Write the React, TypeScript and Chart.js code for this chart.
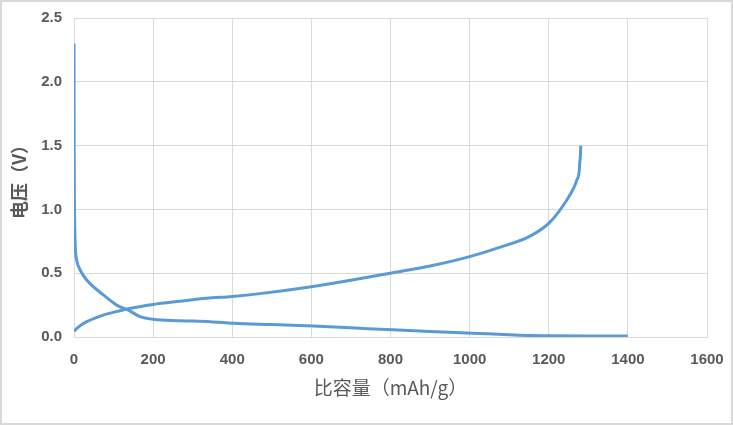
import React, { useEffect, useRef } from 'react';
import Chart from 'chart.js/auto';

// discharge curve (mAh/g, V)
const dischargeCapacity = [0, 0.5, 1, 2, 3, 7, 15, 25, 40, 74, 108, 137, 167, 200, 268, 344, 404, 500, 605, 700, 806, 900, 1006, 1100, 1153, 1207, 1300, 1400];
const dischargeVoltage = [2.3, 1.5, 1.1, 0.85, 0.72, 0.6, 0.53, 0.475, 0.42, 0.33, 0.25, 0.21, 0.16, 0.139, 0.128, 0.12, 0.107, 0.097, 0.086, 0.072, 0.056, 0.043, 0.03, 0.018, 0.012, 0.01, 0.008, 0.007];

// charge curve (mAh/g, V)
const chargeCapacity = [0, 10, 32, 74, 116, 137, 200, 268, 335, 400, 470, 600, 703, 800, 900, 1000, 1068, 1153, 1203, 1245, 1265, 1271, 1277, 1278, 1280, 1281];
const chargeVoltage = [0.045, 0.075, 0.12, 0.172, 0.206, 0.222, 0.255, 0.28, 0.303, 0.318, 0.34, 0.394, 0.447, 0.5, 0.556, 0.63, 0.695, 0.79, 0.9, 1.07, 1.18, 1.23, 1.3, 1.35, 1.42, 1.5];

const xTicks = [0, 200, 400, 600, 800, 1000, 1200, 1400, 1600];
const yTicks = [0, 0.5, 1.0, 1.5, 2.0, 2.5];

const lineColor = '#5b9bd5';
const gridColor = '#d9d9d9';
const textColor = '#595959';

const frame = {
  id: 'frame',
  beforeDraw(chart: any) {
    const { ctx, width, height } = chart;
    ctx.save();
    ctx.fillStyle = '#fff';
    ctx.fillRect(0, 0, width, height);
    ctx.strokeStyle = gridColor;
    ctx.lineWidth = 2;
    ctx.strokeRect(1, 1, width - 2, height - 2);
    ctx.restore();
  },
};

const App: React.FC = () => {
  const chartRef = useRef<HTMLCanvasElement | null>(null);
  const chartInstance = useRef<Chart | null>(null);

  useEffect(() => {
    document.body.style.margin = '0';
    if (chartRef.current) {
      if (chartInstance.current) {
        chartInstance.current.destroy();
      }

      chartInstance.current = new Chart(chartRef.current, {
        type: 'scatter',
        data: {
          datasets: [
            {
              label: '放电',
              data: dischargeCapacity.map((x, i) => ({ x, y: dischargeVoltage[i] })),
              showLine: true,
              borderColor: lineColor,
              borderWidth: 3,
              pointRadius: 0,
              cubicInterpolationMode: 'monotone',
            },
            {
              label: '充电',
              data: chargeCapacity.map((x, i) => ({ x, y: chargeVoltage[i] })),
              showLine: true,
              borderColor: lineColor,
              borderWidth: 3,
              pointRadius: 0,
              cubicInterpolationMode: 'monotone',
            },
          ],
        },
        options: {
          responsive: true,
          maintainAspectRatio: false,
          animation: false,
          layout: {
            padding: { top: 18, right: 26, left: 0, bottom: 0 },
          },
          plugins: {
            legend: { display: false },
            tooltip: { enabled: false },
          },
          scales: {
            x: {
              type: 'linear',
              min: 0,
              max: 1600,
              afterFit: (scale: any) => {
                scale.height = 88;
                scale.paddingLeft = 0;
                scale.paddingRight = 0;
              },
              afterBuildTicks: (scale: any) => {
                scale.ticks = xTicks.map((value) => ({ value }));
              },
              grid: { color: gridColor, drawTicks: false },
              border: { color: gridColor },
              ticks: {
                padding: 14,
                color: textColor,
                font: { family: 'Liberation Sans', size: 15, weight: 'bold' },
                callback: (v: any) => String(v),
              },
              title: {
                display: true,
                text: '比容量（mAh/g）',
                color: textColor,
                padding: { top: 0, bottom: 26 },
                font: { family: 'Noto Sans CJK SC', size: 19 },
              },
            },
            y: {
              type: 'linear',
              min: 0,
              max: 2.5,
              afterFit: (scale: any) => {
                scale.width = 74;
                scale.paddingTop = 0;
                scale.paddingBottom = 0;
              },
              afterBuildTicks: (scale: any) => {
                scale.ticks = yTicks.map((value) => ({ value }));
              },
              grid: { color: gridColor, drawTicks: false },
              border: { display: false },
              ticks: {
                padding: 12,
                color: textColor,
                font: { family: 'Liberation Sans', size: 15, weight: 'bold' },
                callback: (v: any) => Number(v).toFixed(1),
              },
              title: {
                display: true,
                text: '电压（V）',
                color: textColor,
                padding: { top: 8, bottom: 0 },
                font: { family: 'Noto Sans CJK SC', size: 18, weight: 'bold' },
              },
            },
          },
        },
        plugins: [frame],
      });
    }

    return () => {
      if (chartInstance.current) {
        chartInstance.current.destroy();
        chartInstance.current = null;
      }
    };
  }, []);

  return (
    <div style={{ position: 'relative', width: 733, height: 425 }}>
      <canvas ref={chartRef}></canvas>
    </div>
  );
};

export default App;
